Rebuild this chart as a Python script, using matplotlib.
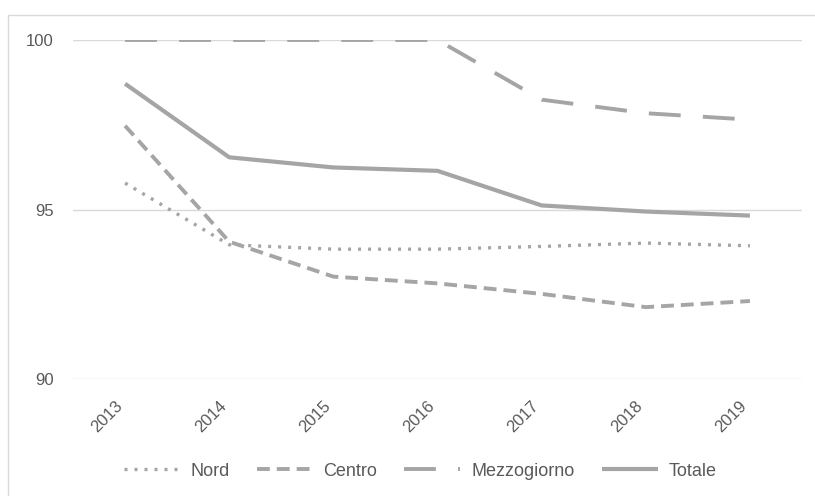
import matplotlib
matplotlib.use("Agg")
import matplotlib.pyplot as plt
from matplotlib.patches import Rectangle

years = ["2013", "2014", "2015", "2016", "2017", "2018", "2019"]
nord = [95.78, 93.96, 93.83, 93.83, 93.91, 94.01, 93.93]
centro = [97.47, 94.05, 93.02, 92.82, 92.51, 92.12, 92.30]
mezzogiorno = [100.0, 100.0, 100.0, 100.0, 98.24, 97.84, 97.65]
totale = [98.71, 96.54, 96.24, 96.14, 95.12, 94.94, 94.82]

plt.rcParams['font.family'] = ['Liberation Sans', 'DejaVu Sans']
txt = '#595959'
col = '#A5A5A5'

fig = plt.figure(figsize=(8.15, 4.96), dpi=100)
ax = fig.add_axes([73/815, 1-379/496, (802-73)/815, (379-40)/496])

x = list(range(len(years)))
ax.plot(x, nord, color=col, lw=2.4, linestyle=(0, (0.9, 2.1)), label='Nord')
ax.plot(x, centro, color=col, lw=2.8, linestyle=(0, (3.3, 1.8)), label='Centro')
ax.plot(x, mezzogiorno, color=col, lw=2.8, linestyle=(0, (8.2, 5.7)), label='Mezzogiorno')
ax.plot(x, totale, color=col, lw=3.0, linestyle='-', label='Totale', solid_capstyle='butt')

ax.set_xlim(-0.5, 6.5)
ax.set_ylim(90, 100)
ax.set_yticks([90, 95, 100])
ax.set_xticks(x)
ax.set_xticklabels(years, rotation=45, ha='right')
ax.tick_params(axis='both', length=0, colors=txt, labelsize=12)
ax.tick_params(axis='y', pad=14)
ax.tick_params(axis='x', pad=14)
ax.grid(axis='y', color='#D9D9D9', lw=1)
ax.set_axisbelow(True)
for s in ax.spines.values():
    s.set_visible(False)

leg = fig.legend(loc='center', bbox_to_anchor=(420/815, 1-471/496), ncol=4,
                 frameon=False, fontsize=13, handlelength=3.1, handletextpad=0.6,
                 columnspacing=1.5)
for t in leg.get_texts():
    t.set_color(txt)

fig.patches.append(Rectangle((8/815, -0.05), 1.2, 1.05 - 15/496, transform=fig.transFigure,
                             fill=False, edgecolor='#D9D9D9', lw=1))

fig.savefig('out.png', dpi=100)
